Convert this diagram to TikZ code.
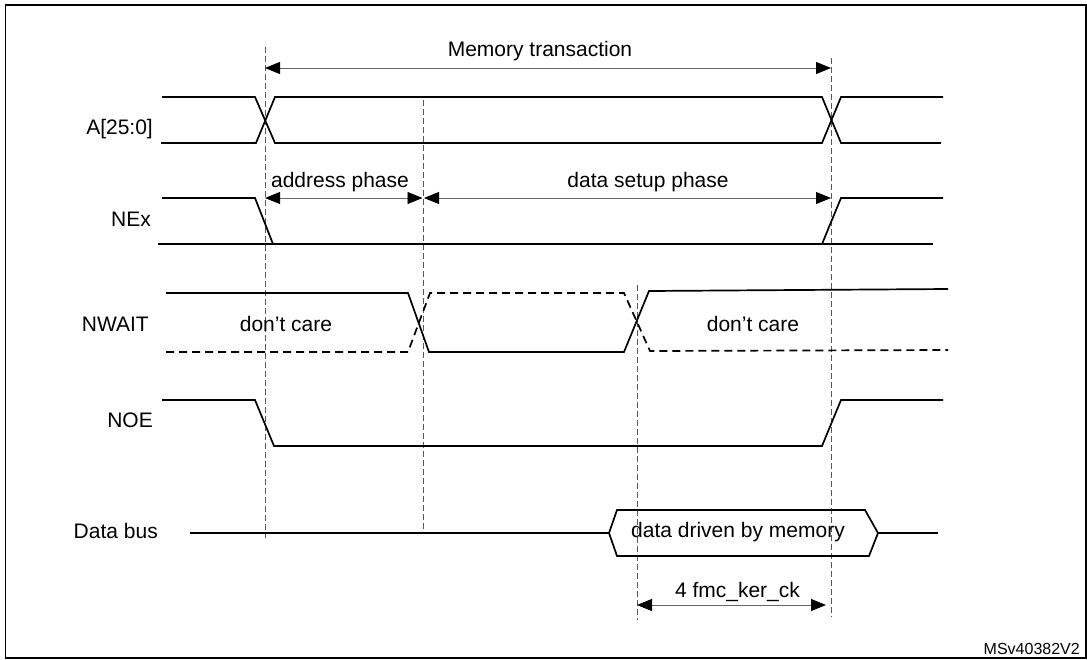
\documentclass[tikz,border=0pt]{standalone}
\usepackage{fontspec}
\setmainfont{Liberation Sans}
\usetikzlibrary{arrows.meta}
\begin{document}
\begin{tikzpicture}[x=1pt,y=-1pt,
    sig/.style={line width=1.7pt,line join=miter},
    dontcare/.style={sig,dash pattern=on 8pt off 5pt},
    guide/.style={line width=0.8pt,black!65,dash pattern=on 6pt off 3pt},
    span/.style={line width=0.9pt,black!60,
      {Triangle[length=15pt,width=12pt,black]}-{Triangle[length=15pt,width=12pt,black]}},
    txt/.style={font=\fontsize{21}{25}\selectfont,inner sep=0pt,anchor=base},
    lbl/.style={txt,anchor=base east}]
        \useasboundingbox (0,0) rectangle (1087,659);
        \draw[line width=1.2pt] (5.5,5) rectangle (1086,658);

        % signal names
        \node[lbl] (la) at (153,134) {A[25:0]};
        \node[lbl] (lnex) at (151,226) {NEx};
        \node[lbl] (lwait) at (149,331) {NWAIT};
        \node[lbl] (lnoe) at (153,427.5) {NOE};
        \node[lbl] (lbus) at (158,538) {Data bus};

        % guide lines
        \coordinate (g1t) at (265,47);   \coordinate (g1b) at (265,538);
        \coordinate (g2t) at (423,100);  \coordinate (g2b) at (423,533);
        \coordinate (g3t) at (637,285);  \coordinate (g3b) at (637,620);
        \coordinate (g4t) at (831,58);   \coordinate (g4b) at (831,617);
        \draw[guide] (g1t) -- (g1b);
        \draw[guide] (g2t) -- (g2b);
        \draw[guide] (g3t) -- (g3b);
        \draw[guide] (g4t) -- (g4b);

        % A[25:0]
        \draw[sig] (162,97) -- (255,97) -- (275,143) -- (822,143) -- (841,97) -- (943,97);
        \draw[sig] (161,143) -- (256,143) -- (275,97) -- (822,97) -- (841,143) -- (941,143);

        % NEx
        \draw[sig] (162,198) -- (255,198) -- (273,244);
        \draw[sig] (158,244) -- (933,244);
        \draw[sig] (822,244) -- (841,198) -- (943,198);

        % NWAIT
        \draw[sig] (166,293) -- (408,293) -- (429,352) -- (624,352) -- (649,291) -- (948,289);
        \draw[dontcare] (166,352) -- (408,352) -- (430,293) -- (624,293) -- (650,351) -- (948,350);
        \node[txt] (dc1) at (286,331.5) {don’t care};
        \node[txt] (dc2) at (753,331.5) {don’t care};

        % NOE
        \draw[sig] (162,400) -- (255,400) -- (274,446) -- (822,446) -- (841,400) -- (943,400);

        % Data bus
        \draw[sig] (190,533) -- (609,533);
        \draw[sig] (609,533) -- (617,510) -- (865,510) -- (878,533) -- (869,556) -- (617,556) -- cycle;
        \draw[sig] (878,533) -- (938,533);
        \node[txt] (ddm) at (738,537) {data driven by memory};

        % phases
        \coordinate (mt1) at (265,68);   \coordinate (mt2) at (831,68);
        \coordinate (ap1) at (265,198);  \coordinate (ap2) at (422.5,198);
        \coordinate (ds1) at (424,198);  \coordinate (ds2) at (831,198);
        \coordinate (ck1) at (637,605);  \coordinate (ck2) at (826,605);
        \draw[span] (mt1) -- (mt2);
        \draw[span] (ap1) -- (ap2);
        \draw[span] (ds1) -- (ds2);
        \draw[span] (ck1) -- (ck2);
        \node[txt] (tmt) at (540,56) {Memory transaction};
        \node[txt] (tap) at (340,187) {address phase};
        \node[txt] (tds) at (648,187) {data setup phase};
        \node[txt] (tck) at (737.5,597) {4 fmc\_ker\_ck};

        \node[txt,anchor=base east,font=\fontsize{16}{19}\selectfont] (ref) at (1080,654) {MSv40382V2};
      \end{tikzpicture}
\end{document}
